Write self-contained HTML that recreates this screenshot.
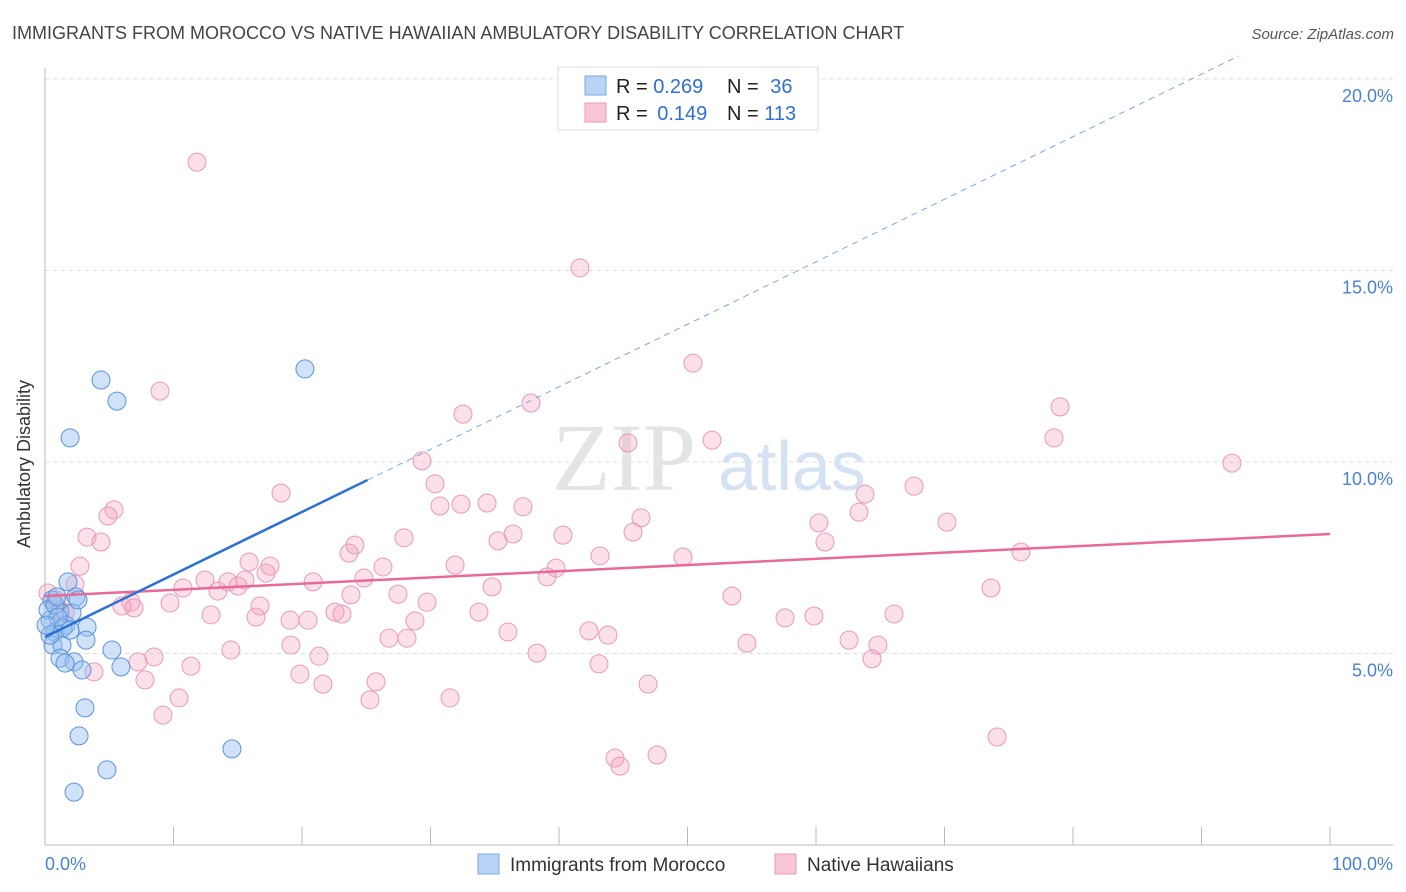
<!DOCTYPE html>
<html><head><meta charset="utf-8"><style>
body{margin:0;background:#fff;font-family:"Liberation Sans",sans-serif}
svg{display:block}
</style></head><body>
<svg id="chart" width="1406" height="892" xmlns="http://www.w3.org/2000/svg">
<text x="12" y="39" font-size="18" fill="#444">IMMIGRANTS FROM MOROCCO VS NATIVE HAWAIIAN AMBULATORY DISABILITY CORRELATION CHART</text>
<text x="1394" y="39" font-size="15" fill="#555" font-style="italic" text-anchor="end">Source: ZipAtlas.com</text>
<g id="grid"></g>
<g>
<text x="552" y="490" font-size="96" fill="#e4e4e4" font-family="Liberation Serif,serif">ZIP</text>
<text x="718" y="490" font-size="70" fill="#d4e2f4">atlas</text>
</g>
<line x1="45" y1="68" x2="45" y2="845" stroke="#bbb"/>
<line x1="45" y1="845" x2="1393" y2="845" stroke="#bbb"/>
<g id="ticks"></g>
<text x="22" y="456" font-size="18" fill="#333" transform="rotate(-90 30 456)" text-anchor="middle">Ambulatory Disability</text>
<text x="45" y="870" font-size="18" fill="#4a80d6">0.0%</text>
<text x="1393" y="870" font-size="18" fill="#4a80d6" text-anchor="end">100.0%</text>
<g id="pink"></g>
<g id="blue"></g>
<g id="lines"></g>
<g>
<rect x="558" y="67" width="260" height="63" fill="#fff" stroke="#ddd"/>
<rect x="585" y="76" width="21" height="19" fill="#b9d3f5" stroke="#7aa7e6"/>
<rect x="585" y="103" width="21" height="19" fill="#f9c6d6" stroke="#ec9ab7"/>
<text x="616" y="93" font-size="20" fill="#222">R = <tspan fill="#2f6fd6">0.269</tspan></text>
<text x="727" y="93" font-size="20" fill="#222">N = <tspan fill="#2f6fd6" dx="6">36</tspan></text>
<text x="616" y="120" font-size="20" fill="#222">R = <tspan fill="#2f6fd6" dx="4">0.149</tspan></text>
<text x="727" y="120" font-size="20" fill="#222">N = <tspan fill="#2f6fd6">113</tspan></text>
</g>
<g>
<rect x="478" y="854" width="21" height="20" fill="#b9d3f5" stroke="#7aa7e6"/>
<text x="510" y="871" font-size="19" fill="#333">Immigrants from Morocco</text>
<rect x="775" y="854" width="21" height="20" fill="#f9c6d6" stroke="#ec9ab7"/>
<text x="807" y="871" font-size="19" fill="#333">Native Hawaiians</text>
</g>
</svg>
<script>
const yTicks=[5,10,15,20];
const yTickLabels=["5.0%","10.0%","15.0%","20.0%"];
const blueX=[4.36,5.60,1.95,20.23,1.79,2.41,0.54,1.17,2.10,0.39,1.63,3.27,0.78,3.19,0.62,1.32,5.21,1.17,2.26,1.56,5.91,2.88,3.11,2.65,4.82,2.26,14.55,0.23,0.78,1.40,0.39,1.01,1.95,0.08,2.57,0.93];
const blueY=[12.14,11.59,10.63,12.43,6.87,6.48,6.40,6.08,6.06,5.87,5.74,5.69,5.56,5.35,5.22,5.22,5.09,4.88,4.78,4.75,4.65,4.57,3.58,2.85,1.96,1.38,2.51,6.14,6.27,5.67,5.48,5.95,5.61,5.74,6.40,6.48];
const pinkX=[11.83,41.63,50.43,8.95,32.53,37.82,45.37,51.91,78.99,78.52,92.37,29.34,18.37,30.35,30.74,32.37,34.40,37.20,63.81,67.63,63.35,70.19,60.23,60.70,46.38,45.76,40.31,36.42,35.25,27.94,24.12,23.66,5.37,4.90,3.27,4.36,2.72,15.88,17.51,17.20,15.56,12.45,14.24,15.02,10.74,13.46,20.86,24.82,26.30,23.81,27.47,29.73,31.91,34.79,39.07,39.77,43.19,49.65,75.95,73.62,53.46,9.73,6.69,5.99,6.93,0.23,0.86,1.17,1.56,2.33,16.73,12.92,16.42,19.07,20.47,22.57,23.11,28.79,33.77,36.03,42.33,43.81,57.59,59.84,66.07,26.77,28.17,19.14,14.47,54.63,62.57,64.82,64.36,8.48,7.24,11.36,21.32,38.29,43.11,19.84,21.63,25.76,3.81,7.78,10.43,9.18,25.29,31.52,46.93,74.09,44.36,44.75,47.63];
const pinkY=[17.83,15.07,12.58,11.85,11.25,11.54,10.50,10.57,11.44,10.63,9.97,10.03,9.19,9.43,8.85,8.90,8.93,8.83,9.16,9.37,8.69,8.43,8.41,7.91,8.54,8.17,8.09,8.12,7.94,8.02,7.83,7.62,8.75,8.59,8.04,7.91,7.28,7.39,7.28,7.10,6.92,6.92,6.87,6.76,6.71,6.63,6.87,6.97,7.26,6.53,6.55,6.34,7.31,6.74,7.00,7.23,7.55,7.52,7.65,6.71,6.50,6.32,6.34,6.24,6.19,6.58,6.40,6.14,6.06,6.81,6.24,6.01,5.95,5.87,5.87,6.08,6.03,5.85,6.08,5.56,5.59,5.48,5.93,5.98,6.03,5.40,5.40,5.22,5.09,5.27,5.35,5.22,4.86,4.91,4.78,4.67,4.93,5.01,4.73,4.46,4.20,4.26,4.52,4.31,3.84,3.39,3.79,3.84,4.20,2.82,2.27,2.06,2.35];
const blueFit=[5.43,0.1633];
const pinkFit=[6.50,0.0162];
const NS="http://www.w3.org/2000/svg";
function sx(v){return 45+v*12.85;}
function sy(v){return 845-v*38.3;}
function mk(tag,attrs,parent){const e=document.createElementNS(NS,tag);for(const k in attrs)e.setAttribute(k,attrs[k]);document.getElementById(parent).appendChild(e);return e;}
yTicks.forEach((t,i)=>{
 const l=mk('line',{x1:45,x2:1393,y1:sy(t),y2:sy(t),stroke:'#ddd','stroke-dasharray':'4,4'},'grid');
 
 
 const tx=mk('text',{x:1393,y:sy(t)+23,'font-size':18,fill:'#4a80d6','text-anchor':'end'},'grid');
 tx.textContent=yTickLabels[i];
 
 
});
for(let i=0;i<=10;i++){
 const l=mk('line',{x1:sx(i*10),x2:sx(i*10),y1:827,y2:845,stroke:'#bbb'},'ticks');
 
 
}
pinkX.forEach((x,i)=>{
 const c=mk('circle',{cx:sx(x),cy:sy(pinkY[i]),r:9,fill:'rgba(244,164,192,0.35)',stroke:'#e99ab6','stroke-width':1},'pink');
 
 
});
blueX.forEach((x,i)=>{
 const c=mk('circle',{cx:sx(x),cy:sy(blueY[i]),r:9,fill:'rgba(150,190,240,0.45)',stroke:'#5d93dc','stroke-width':1},'blue');
 
 
});
const pl=mk('line',{x1:sx(0),y1:sy(pinkFit[0]),x2:sx(100),y2:sy(pinkFit[0]+pinkFit[1]*100),stroke:'#e8699a','stroke-width':2.5},'lines');


const bl=mk('line',{x1:sx(0),y1:sy(blueFit[0]),x2:sx(25.1),y2:sy(blueFit[0]+blueFit[1]*25.1),stroke:'#2a72d8','stroke-width':2.5},'lines');


const xe=(20.6-blueFit[0])/blueFit[1];
const bd=mk('line',{x1:sx(25.1),y1:sy(blueFit[0]+blueFit[1]*25.1),x2:sx(xe),y2:sy(20.6),stroke:'#7aa7e6','stroke-width':1,'stroke-dasharray':'6,5'},'lines');


</script>
</body></html>
